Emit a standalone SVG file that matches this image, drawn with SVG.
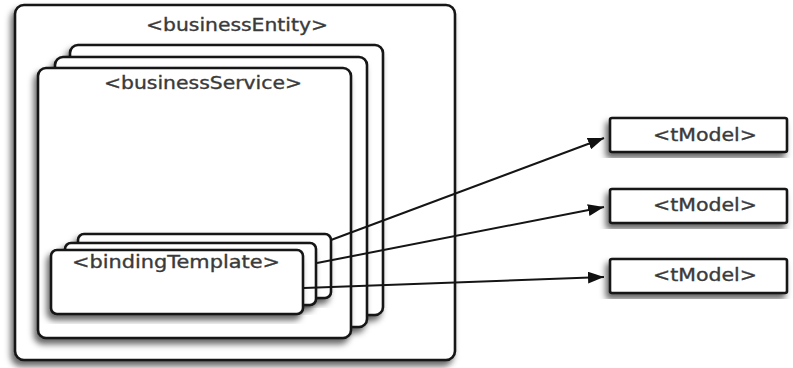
<svg xmlns="http://www.w3.org/2000/svg" width="793" height="368" viewBox="0 0 793 368">
<defs>
<filter id="sh" x="-10%" y="-10%" width="120%" height="125%">
<feDropShadow dx="-3" dy="5" stdDeviation="3" flood-color="#000" flood-opacity="0.6"/>
</filter>
<marker id="arr" viewBox="0 0 16 12" refX="16" refY="6" markerWidth="16" markerHeight="12" markerUnits="userSpaceOnUse" orient="auto">
<path d="M0,0 L16,6 L0,12 Z" fill="#111"/>
</marker>
<style>
.box{fill:#fff;stroke:#151515;stroke-width:2.6;filter:url(#sh)}
.lbl{font-family:"DejaVu Sans",Verdana,sans-serif;font-size:17px;fill:#3a3a3a;stroke:#3a3a3a;stroke-width:0.35}
.con{stroke:#151515;stroke-width:2;fill:none;marker-end:url(#arr)}
</style>
</defs>
<rect width="793" height="368" fill="#fff"/>
<g id="businessEntity">
<rect class="box" x="15" y="5" width="440" height="355" rx="9"/>
<text class="lbl" x="146" y="31" textLength="182" lengthAdjust="spacingAndGlyphs">&lt;businessEntity&gt;</text>
</g>
<g id="businessService">
<rect class="box" x="70" y="45" width="313" height="270" rx="8"/>
<rect class="box" x="55" y="57" width="312" height="270" rx="8"/>
<rect class="box" x="38" y="68" width="313" height="270" rx="8"/>
<text class="lbl" x="104" y="89" textLength="198" lengthAdjust="spacingAndGlyphs">&lt;businessService&gt;</text>
</g>
<g id="bindingTemplate">
<rect class="box" x="78" y="234" width="253" height="64" rx="6"/>
<rect class="box" x="65" y="243" width="251" height="62" rx="6"/>
<rect class="box" x="51" y="250" width="252" height="64" rx="6"/>
<text class="lbl" x="72" y="268" textLength="208" lengthAdjust="spacingAndGlyphs">&lt;bindingTemplate&gt;</text>
</g>
<g id="tModel1">
<rect class="box" x="610" y="118" width="177" height="34" rx="2"/>
<text class="lbl" x="653" y="141" textLength="104" lengthAdjust="spacingAndGlyphs">&lt;tModel&gt;</text>
</g>
<g id="tModel2">
<rect class="box" x="610" y="189" width="177" height="34" rx="2"/>
<text class="lbl" x="653" y="211" textLength="104" lengthAdjust="spacingAndGlyphs">&lt;tModel&gt;</text>
</g>
<g id="tModel3">
<rect class="box" x="610" y="259" width="177" height="34" rx="2"/>
<text class="lbl" x="653" y="281" textLength="104" lengthAdjust="spacingAndGlyphs">&lt;tModel&gt;</text>
</g>
<g id="connectors">
<line class="con" x1="331" y1="240" x2="604" y2="138"/>
<line class="con" x1="317" y1="263" x2="604" y2="207"/>
<line class="con" x1="304" y1="288" x2="604" y2="277"/>
</g>
</svg>
